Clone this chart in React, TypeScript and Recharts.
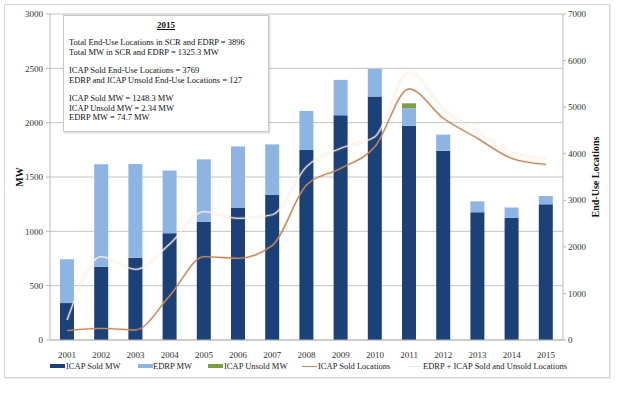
import React from 'react';
import { ComposedChart, Bar, Line, XAxis, YAxis, CartesianGrid } from 'recharts';

const years = ['2001', '2002', '2003', '2004', '2005', '2006', '2007', '2008', '2009', '2010', '2011', '2012', '2013', '2014', '2015'];
const icapSoldMW = [340, 675, 758, 983, 1086, 1215, 1334, 1748, 2068, 2240, 1972, 1742, 1176, 1124, 1248.3];
const edrpMW = [403, 943, 862, 577, 576, 566, 466, 360, 326, 255, 160, 148, 100, 96, 74.7];
const icapUnsoldMW = [0, 0, 0, 0, 0, 0, 0, 0, 0, 0, 46, 0, 0, 0, 2.34];
const icapSoldLocations = [200, 251, 215, 950, 1789, 1754, 2030, 3328, 3686, 4151, 5390, 4760, 4330, 3900, 3769];
const totalLocations = [429, 1789, 1518, 2060, 2755, 2612, 2690, 3722, 4116, 4366, 5762, 4960, 4480, 4020, 3896];
const mwTicks = [0, 500, 1000, 1500, 2000, 2500, 3000];
const locationTicks = [0, 1000, 2000, 3000, 4000, 5000, 6000, 7000];

const seriesNames = ['ICAP Sold MW', 'EDRP MW', 'ICAP Unsold MW', 'ICAP Sold Locations', 'EDRP + ICAP Sold and Unsold Locations'];
const leftAxisTitle = 'MW';
const rightAxisTitle = 'End-Use Locations';
const infoTitle = '2015';
const infoGroups = [
  ['Total End-Use Locations in SCR and EDRP = 3896', 'Total MW in SCR and EDRP = 1325.3 MW'],
  ['ICAP Sold End-Use Locations = 3769', 'EDRP and ICAP Unsold End-Use Locations = 127'],
  ['ICAP Sold MW = 1248.3 MW', 'ICAP Unsold MW = 2.34 MW', 'EDRP MW = 74.7 MW'],
];

const data = years.map((year, i) => ({
  year,
  sold: icapSoldMW[i],
  edrp: edrpMW[i],
  unsold: icapUnsoldMW[i],
  soldLoc: icapSoldLocations[i],
  totalLoc: totalLocations[i],
}));

const FONT = '"Liberation Serif", "Times New Roman", serif';
const DARK = '#1c4179';
const LIGHT = '#8db4e2';
const GREEN = '#7aa046';
const ORANGE = '#c4895a';
const GRID = '#c4c4c4';

const legendStyle = [
  { color: DARK, kind: 'bar', left: 50, textLeft: 66 },
  { color: LIGHT, kind: 'bar', left: 138, textLeft: 153 },
  { color: GREEN, kind: 'bar', left: 208, textLeft: 224 },
  { color: ORANGE, kind: 'line', left: 302, textLeft: 318 },
  { color: '#efe6dc', kind: 'line', left: 408, textLeft: 423 },
];

const LeftTitle = (props: any) => {
  const vb = props.viewBox;
  const x = vb.x + 19;
  const y = vb.y + vb.height / 2;
  return (
    <text x={x} y={y} transform={`rotate(-90 ${x} ${y})`} textAnchor="middle" dominantBaseline="central"
      fontFamily={FONT} fontSize={10} fontWeight="bold" fill="#111">{leftAxisTitle}</text>
  );
};

const RightTitle = (props: any) => {
  const vb = props.viewBox;
  const x = vb.x + 32;
  const y = vb.y + vb.height / 2;
  return (
    <text x={x} y={y} transform={`rotate(-90 ${x} ${y})`} textAnchor="middle" dominantBaseline="central"
      fontFamily={FONT} fontSize={10} fontWeight="bold" fill="#111">{rightAxisTitle}</text>
  );
};

export default function App() {
  const tickStyle = { fontSize: 9, fill: '#333', fontFamily: FONT };
  return (
    <div style={{ position: 'absolute', left: 0, top: 0, width: 624, height: 395, background: '#fff' }}>
      <div style={{ position: 'absolute', left: 4, top: 4, width: 604, height: 372, border: '1px solid #d4d4d4', boxShadow: '1px 1px 1px rgba(0,0,0,0.08)' }} />
      <div style={{ position: 'absolute', left: 0, top: 0 }}>
        <ComposedChart width={624} height={395} data={data} margin={{ top: 14, right: 0, bottom: 35, left: 0 }} barSize={14}>
          <CartesianGrid vertical={false} stroke={GRID} strokeWidth={1} yAxisId="left" />
          <XAxis dataKey="year" tickLine={false} axisLine={{ stroke: '#b8b8b8' }} tick={tickStyle} tickMargin={6} height={20} interval={0} />
          <YAxis yAxisId="left" domain={[0, 3000]} ticks={mwTicks} width={50} axisLine={{ stroke: '#b8b8b8' }}
            tickLine={{ stroke: '#b8b8b8' }} tickSize={4} tickMargin={3} tick={tickStyle} label={<LeftTitle />} />
          <YAxis yAxisId="right" orientation="right" domain={[0, 7000]} ticks={locationTicks} width={61}
            axisLine={{ stroke: '#b8b8b8' }} tickLine={{ stroke: '#b8b8b8' }} tickSize={3} tickMargin={2} tick={tickStyle} label={<RightTitle />} />
          <Bar yAxisId="left" dataKey="sold" stackId="mw" fill={DARK} name={seriesNames[0]} isAnimationActive={false} />
          <Bar yAxisId="left" dataKey="edrp" stackId="mw" fill={LIGHT} name={seriesNames[1]} isAnimationActive={false} />
          <Bar yAxisId="left" dataKey="unsold" stackId="mw" fill={GREEN} name={seriesNames[2]} isAnimationActive={false} />
          <Line yAxisId="right" type="monotone" dataKey="soldLoc" stroke={ORANGE} strokeOpacity={0.15} strokeWidth={3} dot={false} activeDot={false} legendType="none" isAnimationActive={false} />
          <Line yAxisId="right" type="monotone" dataKey="soldLoc" stroke={ORANGE} strokeWidth={1.3} dot={false} activeDot={false} name={seriesNames[3]} isAnimationActive={false} />
          <Line yAxisId="right" type="monotone" dataKey="totalLoc" stroke="#f3c295" strokeOpacity={0.25} strokeWidth={3} dot={false} activeDot={false} legendType="none" isAnimationActive={false} />
          <Line yAxisId="right" type="monotone" dataKey="totalLoc" stroke="#ffffff" strokeOpacity={0.8} strokeWidth={1.2} dot={false} activeDot={false} name={seriesNames[4]} isAnimationActive={false} />
        </ComposedChart>
      </div>
      <div style={{ position: 'absolute', left: 63, top: 15, width: 206, height: 117, border: '1px solid #c8c8c8', background: '#fff',
        boxShadow: '1px 1px 2px rgba(0,0,0,0.18)', fontFamily: FONT, fontSize: 8.5, color: '#111', boxSizing: 'border-box' }}>
        <div style={{ textAlign: 'center', fontWeight: 'bold', textDecoration: 'underline', lineHeight: '10px', paddingTop: 4, fontSize: 9 }}>{infoTitle}</div>
        <div style={{ paddingLeft: 5, paddingTop: 8 }}>
          {infoGroups.map((g, gi) => (
            <div key={gi} style={{ marginBottom: 9 }}>
              {g.map((l, li) => (
                <div key={li} style={{ lineHeight: '9.5px', whiteSpace: 'nowrap' }}>{l}</div>
              ))}
            </div>
          ))}
        </div>
      </div>
      {seriesNames.map((name, i) => {
        const s = legendStyle[i];
        return (
          <React.Fragment key={name}>
            <div style={{ position: 'absolute', left: s.left, top: s.kind === 'bar' ? 364 : 365.5, width: 15, height: s.kind === 'bar' ? 4 : 1.5, background: s.color }} />
            <div style={{ position: 'absolute', left: s.textLeft, top: 360, fontFamily: FONT, fontSize: 8.5, lineHeight: '12px', color: '#222', whiteSpace: 'nowrap' }}>{name}</div>
          </React.Fragment>
        );
      })}
    </div>
  );
}
